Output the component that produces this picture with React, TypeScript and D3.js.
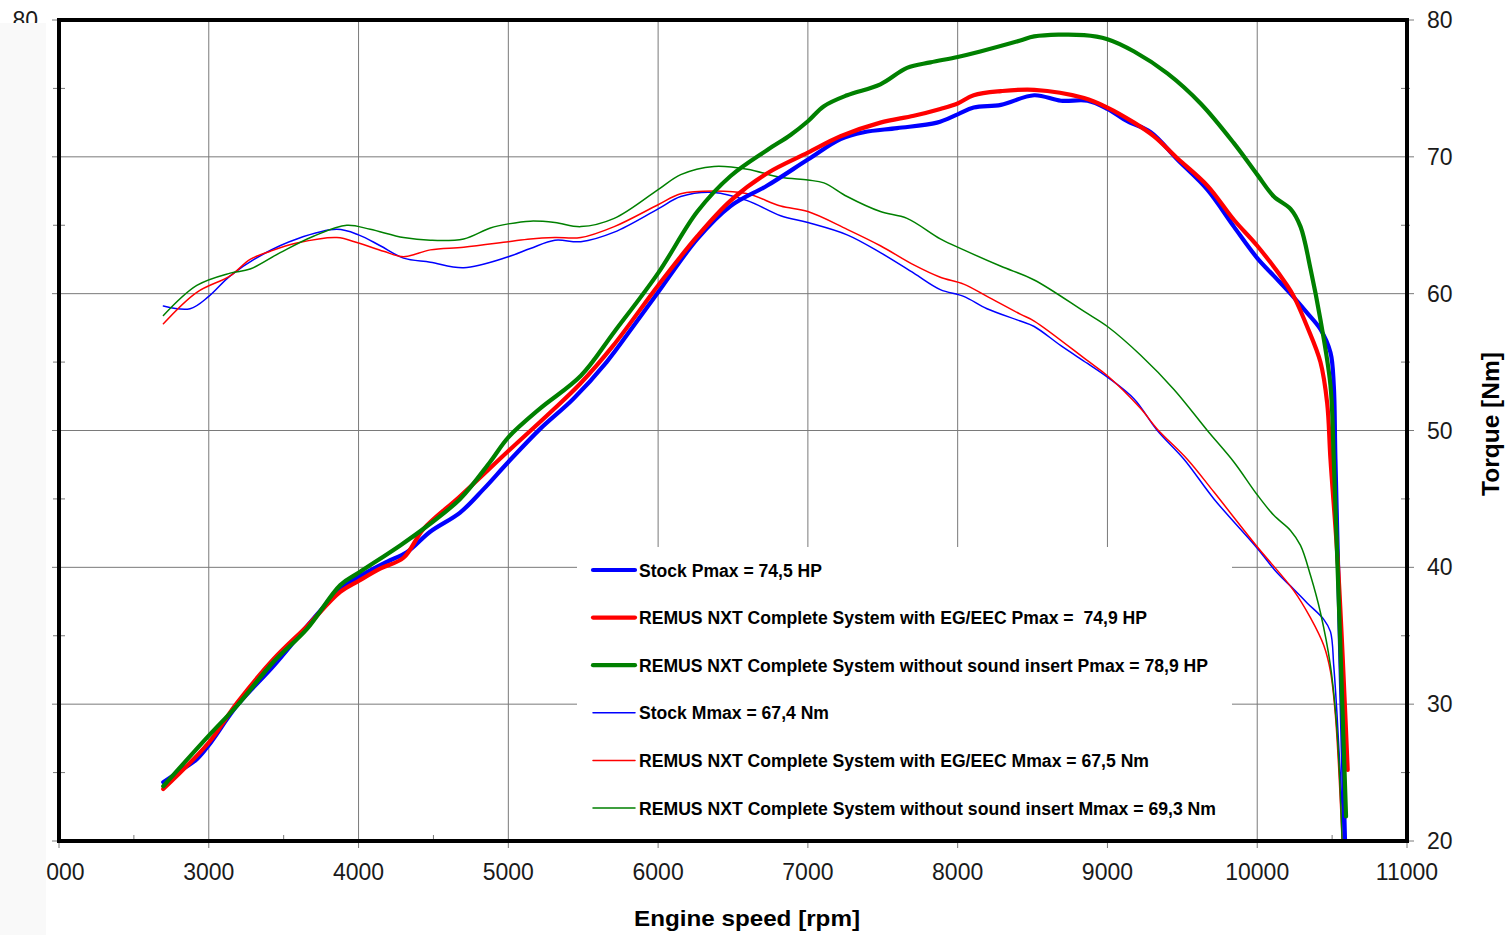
import * as d3 from 'd3';

type Pt = [number, number];

// rpm, value
const stockPower: Pt[] = [
  [2696, 24.3], [2833, 25.3], [2922, 26.0], [3000, 27.0], [3189, 29.9], [3433, 32.8], [3656, 35.7],
  [3878, 38.4], [4000, 39.3], [4189, 40.4], [4322, 41.1], [4478, 42.6], [4678, 44.0], [4833, 45.7],
  [5000, 47.7], [5211, 50.1], [5433, 52.3], [5656, 55.0], [5833, 57.6], [6000, 60.1], [6262, 64.0],
  [6484, 66.4], [6729, 67.9], [7000, 69.8], [7218, 71.3], [7373, 71.8], [7596, 72.1], [7862, 72.5],
  [8000, 73.1], [8107, 73.6], [8289, 73.8], [8511, 74.5], [8689, 74.1], [8867, 74.1], [9000, 73.5],
  [9133, 72.6], [9289, 71.8], [9467, 69.8], [9667, 67.6], [9844, 64.9], [10000, 62.6], [10111, 61.3],
  [10222, 60.0], [10333, 58.6], [10422, 57.4], [10489, 55.7], [10511, 53.3], [10522, 47.9], [10586, 20.0],
];
const egPower: Pt[] = [
  [2696, 23.8], [3000, 27.2], [3189, 30.1], [3433, 33.3], [3656, 35.7], [3878, 38.2], [4000, 39.0],
  [4144, 39.9], [4300, 40.7], [4433, 42.8], [4678, 45.2], [5000, 48.5], [5278, 51.3], [5478, 53.4],
  [5700, 56.2], [6000, 60.6], [6262, 64.2], [6484, 66.8], [6729, 68.8], [7000, 70.3], [7218, 71.5],
  [7484, 72.5], [7707, 73.0], [7884, 73.5], [8000, 73.9], [8107, 74.5], [8289, 74.8], [8511, 74.9],
  [8844, 74.3], [9000, 73.6], [9178, 72.5], [9311, 71.5], [9467, 69.9], [9667, 67.9], [9844, 65.4],
  [10000, 63.5], [10200, 60.6], [10244, 59.8], [10333, 57.6], [10422, 55.0], [10467, 52.0],
  [10489, 47.9], [10540, 40.0], [10604, 25.2],
];
const openPower: Pt[] = [
  [2696, 24.0], [3000, 27.7], [3189, 29.9], [3433, 33.1], [3656, 35.5], [3878, 38.7], [4000, 39.6],
  [4278, 41.6], [4456, 43.0], [4678, 45.0], [4878, 47.7], [5000, 49.5], [5211, 51.6], [5484, 54.0],
  [5707, 57.2], [6000, 61.5], [6262, 66.0], [6484, 68.6], [6729, 70.5], [6884, 71.6], [7000, 72.6],
  [7107, 73.7], [7262, 74.5], [7484, 75.3], [7662, 76.5], [7818, 76.9], [8000, 77.3], [8151, 77.7],
  [8418, 78.5], [8511, 78.8], [8844, 78.9], [9000, 78.6], [9178, 77.7], [9400, 76.1], [9622, 73.9],
  [9844, 71.0], [10000, 68.7], [10111, 67.1], [10222, 66.2], [10289, 64.9], [10356, 61.8],
  [10422, 58.1], [10489, 53.3], [10511, 47.9], [10593, 21.8],
];
const stockTorque: Pt[] = [
  [2697, 59.1], [2875, 58.9], [3000, 59.8], [3143, 61.3], [3365, 62.9], [3588, 64.0], [3855, 64.7],
  [4000, 64.3], [4145, 63.5], [4300, 62.6], [4479, 62.3], [4702, 61.9], [5000, 62.7], [5147, 63.3],
  [5311, 63.9], [5484, 63.8], [5707, 64.5], [6000, 66.2], [6151, 67.1], [6373, 67.4], [6596, 66.8],
  [6818, 65.7], [7000, 65.2], [7262, 64.3], [7484, 63.0], [7707, 61.5], [7884, 60.3], [8040, 59.8],
  [8196, 58.9], [8418, 58.0], [8511, 57.6], [8689, 56.2], [8867, 54.9], [9000, 53.9], [9178, 52.3],
  [9333, 50.0], [9511, 47.9], [9711, 45.0], [10000, 41.4], [10133, 39.6], [10244, 38.4],
  [10333, 37.4], [10444, 36.2], [10489, 35.3], [10511, 32.8], [10533, 29.2], [10578, 20.0],
];
const egTorque: Pt[] = [
  [2697, 57.8], [2920, 60.1], [3143, 61.3], [3276, 62.5], [3410, 63.1], [3588, 63.7], [3855, 64.1],
  [4000, 63.7], [4167, 63.1], [4300, 62.7], [4479, 63.2], [4702, 63.4], [5000, 63.8], [5147, 64.0],
  [5311, 64.1], [5484, 64.1], [5707, 64.9], [6000, 66.5], [6151, 67.3], [6373, 67.5], [6596, 67.3],
  [6818, 66.4], [7000, 66.0], [7262, 64.7], [7484, 63.5], [7707, 62.1], [7884, 61.2], [8040, 60.7],
  [8196, 59.8], [8418, 58.5], [8511, 58.0], [8867, 55.1], [9000, 54.0], [9222, 51.6], [9333, 50.1],
  [9533, 47.9], [9711, 45.5], [10000, 41.5], [10244, 38.3], [10356, 36.3], [10444, 34.3],
  [10489, 32.4], [10522, 29.2], [10567, 20.0],
];
const openTorque: Pt[] = [
  [2697, 58.4], [2920, 60.6], [3143, 61.5], [3276, 61.8], [3477, 63.0], [3699, 64.2], [3922, 65.0],
  [4078, 64.7], [4300, 64.1], [4479, 63.9], [4702, 64.0], [4880, 64.8], [5000, 65.1], [5147, 65.3],
  [5311, 65.2], [5484, 64.9], [5707, 65.5], [6000, 67.6], [6151, 68.7], [6373, 69.3], [6596, 69.1],
  [6818, 68.5], [7000, 68.3], [7107, 68.1], [7262, 67.1], [7484, 66.0], [7662, 65.5], [7884, 64.0],
  [8040, 63.2], [8289, 62.0], [8511, 61.0], [8844, 58.7], [9000, 57.6], [9222, 55.5], [9444, 53.0],
  [9667, 50.0], [9844, 47.7], [10000, 45.3], [10111, 43.8], [10222, 42.7], [10289, 41.6],
  [10356, 39.4], [10422, 36.7], [10489, 32.8], [10533, 28.0], [10567, 20.0],
];

const xTicks = [2000, 3000, 4000, 5000, 6000, 7000, 8000, 9000, 10000, 11000];
const xMinor = [2500, 3500, 4500, 5500, 6500, 7500, 8500, 9500, 10500];
const yTicks = [20, 30, 40, 50, 60, 70, 80];
const yMinor = [25, 35, 45, 55, 65, 75];

const series = [
  { data: stockTorque, color: '#0000ff', thick: false },
  { data: egTorque, color: '#ff0000', thick: false },
  { data: openTorque, color: '#008000', thick: false },
  { data: stockPower, color: '#0000ff', thick: true },
  { data: egPower, color: '#ff0000', thick: true },
  { data: openPower, color: '#008000', thick: true },
];

const legendItems = [
  { label: 'Stock Pmax = 74,5 HP', color: '#0000ff', thick: true, len: 183 },
  { label: 'REMUS NXT Complete System with EG/EEC Pmax =  74,9 HP', color: '#ff0000', thick: true, len: 508 },
  { label: 'REMUS NXT Complete System without sound insert Pmax = 78,9 HP', color: '#008000', thick: true, len: 569 },
  { label: 'Stock Mmax = 67,4 Nm', color: '#0000ff', thick: false, len: 190 },
  { label: 'REMUS NXT Complete System with EG/EEC Mmax = 67,5 Nm', color: '#ff0000', thick: false, len: 510 },
  { label: 'REMUS NXT Complete System without sound insert Mmax = 69,3 Nm', color: '#008000', thick: false, len: 577 },
];

const W = 1510;
const H = 935;
const m = { left: 59, right: 1407, top: 20, bottom: 841 };
const font = '"Liberation Sans", Arial, sans-serif';

export default function App() {
  const x = d3.scaleLinear().domain([2000, 11000]).range([m.left, m.right]);
  const y = d3.scaleLinear().domain([20, 80]).range([m.bottom, m.top]);
  // centripetal Catmull-Rom gives the smoothed look of the dyno software
  const line = d3.line<Pt>().x((d) => x(d[0])).y((d) => y(d[1])).curve(d3.curveCatmullRom.alpha(0.5));

  return (
    <div style={{ position: 'fixed', left: 0, top: 0 }}>
      <svg width={W} height={H} style={{ display: 'block', background: '#fff' }}>
        <defs>
          <clipPath id="plot">
            <rect x={m.left} y={m.top} width={m.right - m.left} height={m.bottom - m.top + 4} />
          </clipPath>
        </defs>

        {/* grid */}
        {xTicks.map((t) => (
          <line key={`gx${t}`} x1={x(t)} x2={x(t)} y1={m.top} y2={m.bottom + 7} stroke="#7a7a7a" strokeWidth={1} />
        ))}
        {yTicks.map((t) => (
          <line key={`gy${t}`} x1={m.left - 7} x2={m.right + 7} y1={y(t)} y2={y(t)} stroke="#7a7a7a" strokeWidth={1} />
        ))}
        {xMinor.map((t) => (
          <line key={`mx${t}`} x1={x(t)} x2={x(t)} y1={m.bottom - 6} y2={m.bottom} stroke="#7a7a7a" strokeWidth={1} />
        ))}
        {yMinor.map((t) => (
          <g key={`my${t}`}>
            <line x1={m.left - 6} x2={m.left + 6} y1={y(t)} y2={y(t)} stroke="#7a7a7a" strokeWidth={1} />
            <line x1={m.right - 6} x2={m.right + 3} y1={y(t)} y2={y(t)} stroke="#7a7a7a" strokeWidth={1} />
          </g>
        ))}

        {/* legend background hides grid */}
        <rect x={577} y={547} width={655} height={m.bottom - 547} fill="#fff" />

        <g clipPath="url(#plot)">
          {series.map((s, i) => (
            <path key={i} d={line(s.data) ?? undefined} fill="none" stroke={s.color}
              strokeWidth={s.thick ? 4.2 : 1.5} strokeLinejoin="round" strokeLinecap="round" />
          ))}
        </g>

        {/* frame */}
        <rect x={m.left} y={m.top} width={m.right - m.left} height={m.bottom - m.top} fill="none" stroke="#000" strokeWidth={4} />

        {/* legend */}
        {legendItems.map((it, i) => {
          const ly = 570 + i * 47.6;
          return (
            <g key={i}>
              <line x1={593} x2={635} y1={ly} y2={ly} stroke={it.color} strokeWidth={it.thick ? 4.2 : 1.5} strokeLinecap="round" />
              <text x={639} y={ly + 6.5} fontFamily={font} fontWeight="bold" fontSize={17.5} fill="#000"
                textLength={it.len} lengthAdjust="spacingAndGlyphs" style={{ whiteSpace: 'pre' }}>
                {it.label}
              </text>
            </g>
          );
        })}

        {/* x tick labels */}
        {xTicks.map((t) => (
          <text key={`tx${t}`} x={x(t)} y={880} textAnchor="middle" fontFamily={font} fontSize={23} fill="#1a1a1a">{t}</text>
        ))}
        {/* right tick labels */}
        {yTicks.map((t) => (
          <text key={`tr${t}`} x={1427} y={y(t) + 8} fontFamily={font} fontSize={23} fill="#1a1a1a">{t}</text>
        ))}
        {/* left tick labels (mostly hidden by the strip) */}
        {yTicks.map((t) => (
          <text key={`tl${t}`} x={38} y={y(t) + 8} textAnchor="end" fontFamily={font} fontSize={23} fill="#1a1a1a">{t}</text>
        ))}

        {/* left pale strip overlapping the labels */}
        <rect x={0} y={23} width={46} height={H - 23} fill="#f9f9f9" />

        {/* axis titles */}
        <text x={747} y={926} textAnchor="middle" fontFamily={font} fontWeight="bold" fontSize={22} fill="#000"
          textLength={226} lengthAdjust="spacingAndGlyphs">Engine speed [rpm]</text>
        <text transform="translate(1499,424) rotate(-90)" textAnchor="middle" fontFamily={font} fontWeight="bold"
          fontSize={23} fill="#000" textLength={144} lengthAdjust="spacingAndGlyphs">Torque [Nm]</text>
      </svg>
    </div>
  );
}
